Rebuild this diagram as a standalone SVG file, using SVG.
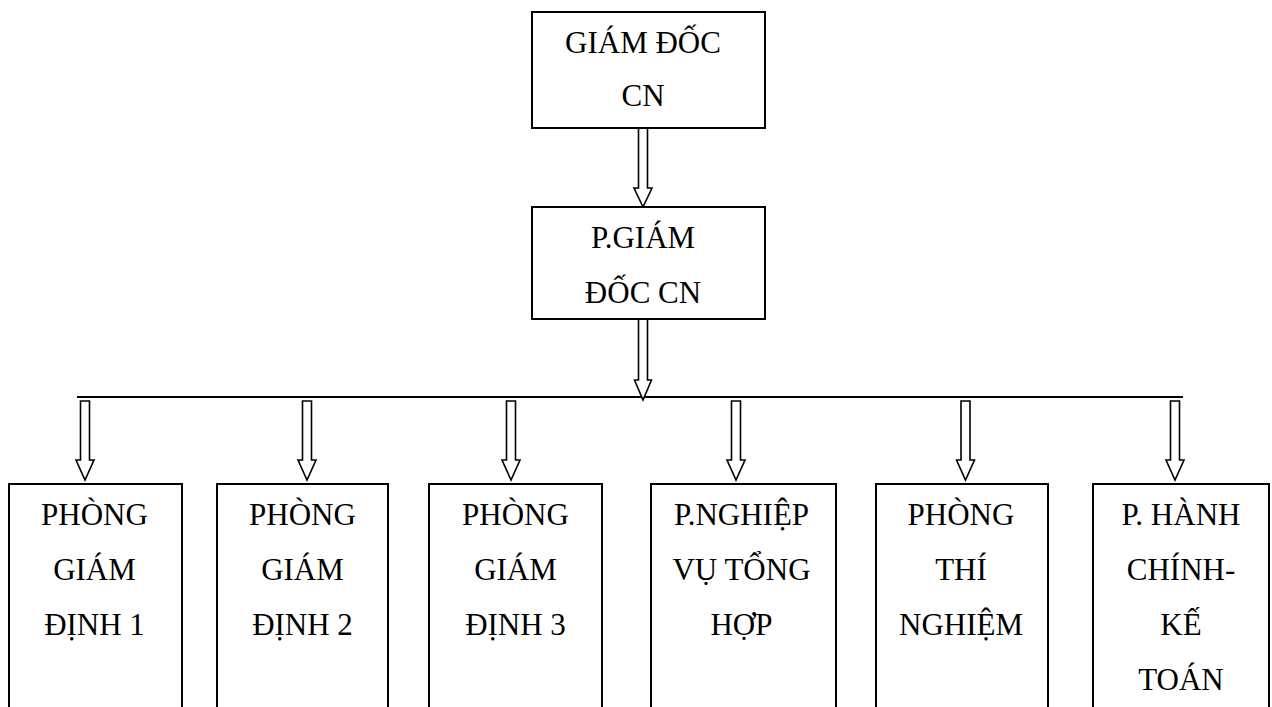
<svg xmlns="http://www.w3.org/2000/svg" width="1272" height="707" viewBox="0 0 1272 707">
  <style>
    .box { fill: #fff; stroke: #000; stroke-width: 2; }
    .arrow { fill: #fff; stroke: #000; stroke-width: 1.6; stroke-linejoin: miter; }
    .bus { stroke: #000; stroke-width: 2; fill: none; }
    .lbl { font-family: "Liberation Serif", "Times New Roman", serif; font-size: 31px; fill: #000; text-anchor: middle; }
  </style>
  <defs>
    <!-- hollow block arrow pointing down, tip at (0,0) -->
    <polygon id="down" points="-4.5,-79 4.5,-79 4.5,-20 9,-20 0,0 -9,-20 -4.5,-20" />
  </defs>

  <g id="connectors">
    <line class="bus" x1="77" y1="397" x2="1183" y2="397" />
    <!-- director to deputy -->
    <polygon class="arrow" points="638.5,128 647.5,128 647.5,188 652,188 643,207 634,188 638.5,188" />
    <!-- deputy to bus -->
    <polygon class="arrow" points="638.5,319 647.5,319 647.5,380 651.5,380 643,400 634.5,380 638.5,380" />
    <!-- bus to departments -->
    <use href="#down" class="arrow" x="85" y="480" />
    <use href="#down" class="arrow" x="307" y="480" />
    <use href="#down" class="arrow" x="511" y="480" />
    <use href="#down" class="arrow" x="736" y="480" />
    <use href="#down" class="arrow" x="965.5" y="480" />
    <use href="#down" class="arrow" x="1175" y="480" />
  </g>

  <g id="giam-doc">
    <rect class="box" x="532" y="12" width="233" height="116" />
    <text class="lbl" x="643" y="53">GIÁM ĐỐC</text>
    <text class="lbl" x="643" y="106">CN</text>
  </g>

  <g id="pho-giam-doc">
    <rect class="box" x="532" y="207" width="233" height="112" />
    <text class="lbl" x="643" y="248">P.GIÁM</text>
    <text class="lbl" x="643" y="303">ĐỐC CN</text>
  </g>

  <g id="phong-giam-dinh-1">
    <rect class="box" x="9" y="484" width="173" height="240" />
    <text class="lbl" x="94.5" y="525">PHÒNG</text>
    <text class="lbl" x="94.5" y="580">GIÁM</text>
    <text class="lbl" x="94.5" y="635">ĐỊNH 1</text>
  </g>

  <g id="phong-giam-dinh-2">
    <rect class="box" x="217" y="484" width="171" height="240" />
    <text class="lbl" x="302.5" y="525">PHÒNG</text>
    <text class="lbl" x="302.5" y="580">GIÁM</text>
    <text class="lbl" x="302.5" y="635">ĐỊNH 2</text>
  </g>

  <g id="phong-giam-dinh-3">
    <rect class="box" x="429" y="484" width="173" height="240" />
    <text class="lbl" x="515.5" y="525">PHÒNG</text>
    <text class="lbl" x="515.5" y="580">GIÁM</text>
    <text class="lbl" x="515.5" y="635">ĐỊNH 3</text>
  </g>

  <g id="nghiep-vu-tong-hop">
    <rect class="box" x="651" y="484" width="185" height="240" />
    <text class="lbl" x="741.5" y="525">P.NGHIỆP</text>
    <text class="lbl" x="741.5" y="580">VỤ TỔNG</text>
    <text class="lbl" x="741.5" y="635">HỢP</text>
  </g>

  <g id="phong-thi-nghiem">
    <rect class="box" x="876" y="484" width="172" height="240" />
    <text class="lbl" x="961" y="525">PHÒNG</text>
    <text class="lbl" x="961" y="580">THÍ</text>
    <text class="lbl" x="961" y="635">NGHIỆM</text>
  </g>

  <g id="hanh-chinh-ke-toan">
    <rect class="box" x="1093" y="484" width="176" height="240" />
    <text class="lbl" x="1181" y="525">P. HÀNH</text>
    <text class="lbl" x="1181" y="580">CHÍNH-</text>
    <text class="lbl" x="1181" y="635">KẾ</text>
    <text class="lbl" x="1181" y="690">TOÁN</text>
  </g>
</svg>
